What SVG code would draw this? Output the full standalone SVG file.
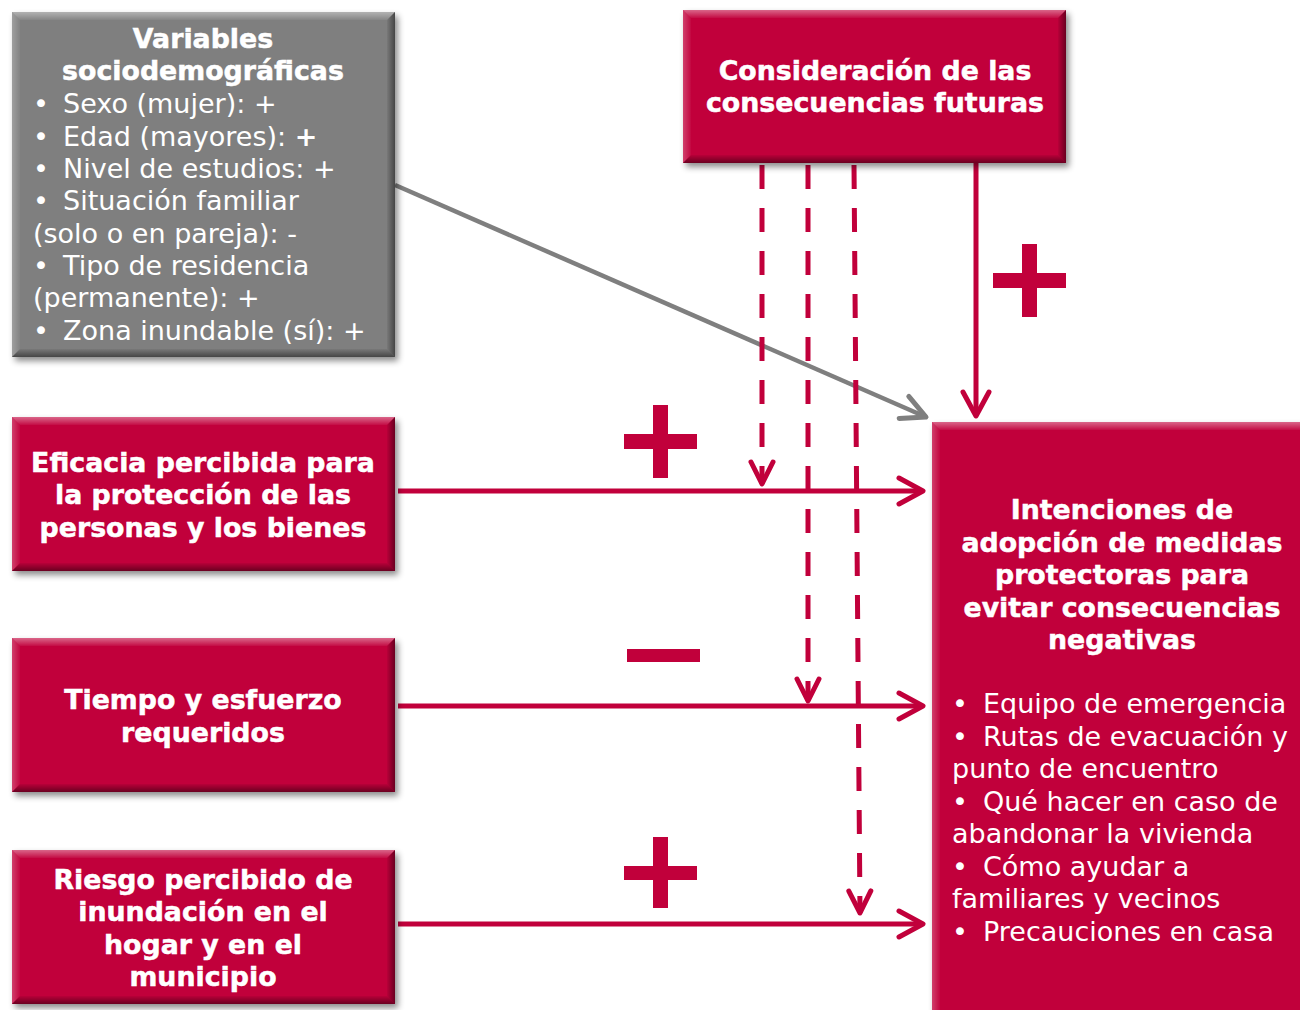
<svg xmlns="http://www.w3.org/2000/svg" width="1300" height="1010" viewBox="0 0 1300 1010">
<defs>
<style>
.red{fill:#C1003B}
.gray{fill:#7F7F7F}
.bt{fill:url(#gTop)}
.bb{fill:url(#gBot)}
.bl{fill:url(#gLeft)}
.br{fill:url(#gRight)}
.title{font-family:"DejaVu Sans",Verdana,sans-serif;font-weight:bold;font-size:26.8px;fill:#fff;stroke:#fff;stroke-width:0.5;text-anchor:middle}
.body{font-family:"DejaVu Sans",Verdana,sans-serif;font-size:27px;fill:#fff}
.ln{fill:none;stroke:#C1003B;stroke-width:5}
.dash{fill:none;stroke:#C1003B;stroke-width:5;stroke-dasharray:24 19}
.gl{fill:none;stroke:#7F7F7F;stroke-width:4.5}
.sign{fill:#C1003B}
</style>
<linearGradient id="gTop" x1="0" y1="0" x2="0" y2="1"><stop offset="0" stop-color="#fff" stop-opacity="0.4"/><stop offset="1" stop-color="#fff" stop-opacity="0.05"/></linearGradient>
<linearGradient id="gBot" x1="0" y1="0" x2="0" y2="1"><stop offset="0" stop-color="#000" stop-opacity="0.05"/><stop offset="1" stop-color="#000" stop-opacity="0.45"/></linearGradient>
<linearGradient id="gLeft" x1="0" y1="0" x2="1" y2="0"><stop offset="0" stop-color="#fff" stop-opacity="0.25"/><stop offset="1" stop-color="#fff" stop-opacity="0.03"/></linearGradient>
<linearGradient id="gRight" x1="0" y1="0" x2="1" y2="0"><stop offset="0" stop-color="#000" stop-opacity="0.05"/><stop offset="1" stop-color="#000" stop-opacity="0.45"/></linearGradient>
<filter id="sh" x="-10%" y="-10%" width="125%" height="125%"><feDropShadow dx="3" dy="4" stdDeviation="3" flood-color="#000" flood-opacity="0.45"/></filter>
<marker id="ar" markerUnits="userSpaceOnUse" markerWidth="40" markerHeight="40" viewBox="-30 -20 40 40" refX="0" refY="0" orient="auto"><path d="M-24,-13 L0,0 L-24,13" fill="none" stroke="#C1003B" stroke-width="5" stroke-linecap="round" stroke-linejoin="round"/></marker>
<marker id="ard" markerUnits="userSpaceOnUse" markerWidth="40" markerHeight="40" viewBox="-30 -20 40 40" refX="0" refY="0" orient="auto"><path d="M-22,-11 L0,0 L-22,11" fill="none" stroke="#C1003B" stroke-width="5" stroke-linecap="round" stroke-linejoin="round"/></marker>
<marker id="ag" markerUnits="userSpaceOnUse" markerWidth="40" markerHeight="40" viewBox="-30 -20 40 40" refX="0" refY="0" orient="auto"><path d="M-24,-12 L0,0 L-24,12" fill="none" stroke="#7F7F7F" stroke-width="5" stroke-linecap="round" stroke-linejoin="round"/></marker>
</defs>
<rect width="1300" height="1010" fill="#fff"/>

<g id="connectors">
<path class="gl" d="M395,185 L926,417" marker-end="url(#ag)"/>
<path class="ln" d="M976,163 L976,416" marker-end="url(#ar)"/>
<path class="ln" d="M398,491 L923,491" marker-end="url(#ar)"/>
<path class="ln" d="M398,706 L923,706" marker-end="url(#ar)"/>
<path class="ln" d="M398,924 L923,924" marker-end="url(#ar)"/>
<path class="dash" d="M762,165 L762,484" marker-end="url(#ard)"/>
<path class="dash" d="M808,165 L808,701" marker-end="url(#ard)"/>
<path class="dash" d="M854,165 L860,913" marker-end="url(#ard)"/>
</g>

<g id="signs">
<path class="sign" d="M1022,244 h15 v29 h29 v15 h-29 v29 h-15 v-29 h-29 v-15 h29 z"/>
<path class="sign" d="M653,405 h15 v29 h29 v15 h-29 v29 h-15 v-29 h-29 v-15 h29 z"/>
<rect class="sign" x="627" y="649" width="73" height="13"/>
<path class="sign" d="M653,837 h15 v29 h29 v14 h-29 v28 h-15 v-28 h-29 v-14 h29 z"/>
</g>

<g id="node-sociodemograficas">
<rect class="gray" x="12" y="12" width="383" height="345" filter="url(#sh)"/>
<polygon class="bt" points="12,12 395,12 387,20 20,20"/>
<polygon class="bl" points="12,12 20,20 20,349 12,357"/>
<polygon class="bb" points="20,349 387,349 395,357 12,357"/>
<polygon class="br" points="387,20 395,12 395,357 387,349"/>
<text class="title" x="203" y="48">Variables</text>
<text class="title" x="203" y="80">sociodemográficas</text>
<text class="body"><tspan x="33" y="113">•</tspan><tspan x="63" y="113">Sexo (mujer): +</tspan></text>
<text class="body"><tspan x="33" y="146">•</tspan><tspan x="63" y="146">Edad (mayores): </tspan><tspan font-weight="bold">+</tspan></text>
<text class="body"><tspan x="33" y="178">•</tspan><tspan x="63" y="178">Nivel de estudios: +</tspan></text>
<text class="body"><tspan x="33" y="210">•</tspan><tspan x="63" y="210">Situación familiar</tspan></text>
<text class="body" x="33" y="243">(solo o en pareja): -</text>
<text class="body"><tspan x="33" y="275">•</tspan><tspan x="63" y="275">Tipo de residencia</tspan></text>
<text class="body" x="33" y="307">(permanente): +</text>
<text class="body"><tspan x="33" y="340">•</tspan><tspan x="63" y="340">Zona inundable (sí): +</tspan></text>
</g>

<g id="node-consideracion">
<rect class="red" x="683" y="10" width="383" height="153" filter="url(#sh)"/>
<polygon class="bt" points="683,10 1066,10 1058,18 691,18"/>
<polygon class="bl" points="683,10 691,18 691,155 683,163"/>
<polygon class="bb" points="691,155 1058,155 1066,163 683,163"/>
<polygon class="br" points="1058,18 1066,10 1066,163 1058,155"/>
<text class="title" x="875" y="80">Consideración de las</text>
<text class="title" x="875" y="112">consecuencias futuras</text>
</g>

<g id="node-eficacia">
<rect class="red" x="12" y="417" width="383" height="154" filter="url(#sh)"/>
<polygon class="bt" points="12,417 395,417 387,425 20,425"/>
<polygon class="bl" points="12,417 20,425 20,563 12,571"/>
<polygon class="bb" points="20,563 387,563 395,571 12,571"/>
<polygon class="br" points="387,425 395,417 395,571 387,563"/>
<text class="title" x="203" y="472">Eficacia percibida para</text>
<text class="title" x="203" y="504">la protección de las</text>
<text class="title" x="203" y="537">personas y los bienes</text>
</g>

<g id="node-tiempo">
<rect class="red" x="12" y="638" width="383" height="154" filter="url(#sh)"/>
<polygon class="bt" points="12,638 395,638 387,646 20,646"/>
<polygon class="bl" points="12,638 20,646 20,784 12,792"/>
<polygon class="bb" points="20,784 387,784 395,792 12,792"/>
<polygon class="br" points="387,646 395,638 395,792 387,784"/>
<text class="title" x="203" y="709">Tiempo y esfuerzo</text>
<text class="title" x="203" y="742">requeridos</text>
</g>

<g id="node-riesgo">
<rect class="red" x="12" y="850" width="383" height="154" filter="url(#sh)"/>
<polygon class="bt" points="12,850 395,850 387,858 20,858"/>
<polygon class="bl" points="12,850 20,858 20,996 12,1004"/>
<polygon class="bb" points="20,996 387,996 395,1004 12,1004"/>
<polygon class="br" points="387,858 395,850 395,1004 387,996"/>
<text class="title" x="203" y="889">Riesgo percibido de</text>
<text class="title" x="203" y="921">inundación en el</text>
<text class="title" x="203" y="954">hogar y en el</text>
<text class="title" x="203" y="986">municipio</text>
</g>

<g id="node-intenciones">
<rect class="red" x="932" y="422" width="380" height="600" filter="url(#sh)"/>
<polygon class="bt" points="932,422 1312,422 1304,430 940,430"/>
<polygon class="bl" points="932,422 940,430 940,1022 932,1022"/>
<text class="title" x="1122" y="519">Intenciones de</text>
<text class="title" x="1122" y="552">adopción de medidas</text>
<text class="title" x="1122" y="584">protectoras para</text>
<text class="title" x="1122" y="617">evitar consecuencias</text>
<text class="title" x="1122" y="649">negativas</text>
<text class="body"><tspan x="952" y="713">•</tspan><tspan x="983" y="713">Equipo de emergencia</tspan></text>
<text class="body"><tspan x="952" y="746">•</tspan><tspan x="983" y="746">Rutas de evacuación y</tspan></text>
<text class="body" x="952" y="778">punto de encuentro</text>
<text class="body"><tspan x="952" y="811">•</tspan><tspan x="983" y="811">Qué hacer en caso de</tspan></text>
<text class="body" x="952" y="843">abandonar la vivienda</text>
<text class="body"><tspan x="952" y="876">•</tspan><tspan x="983" y="876">Cómo ayudar a</tspan></text>
<text class="body" x="952" y="908">familiares y vecinos</text>
<text class="body"><tspan x="952" y="941">•</tspan><tspan x="983" y="941">Precauciones en casa</tspan></text>
</g>
</svg>
